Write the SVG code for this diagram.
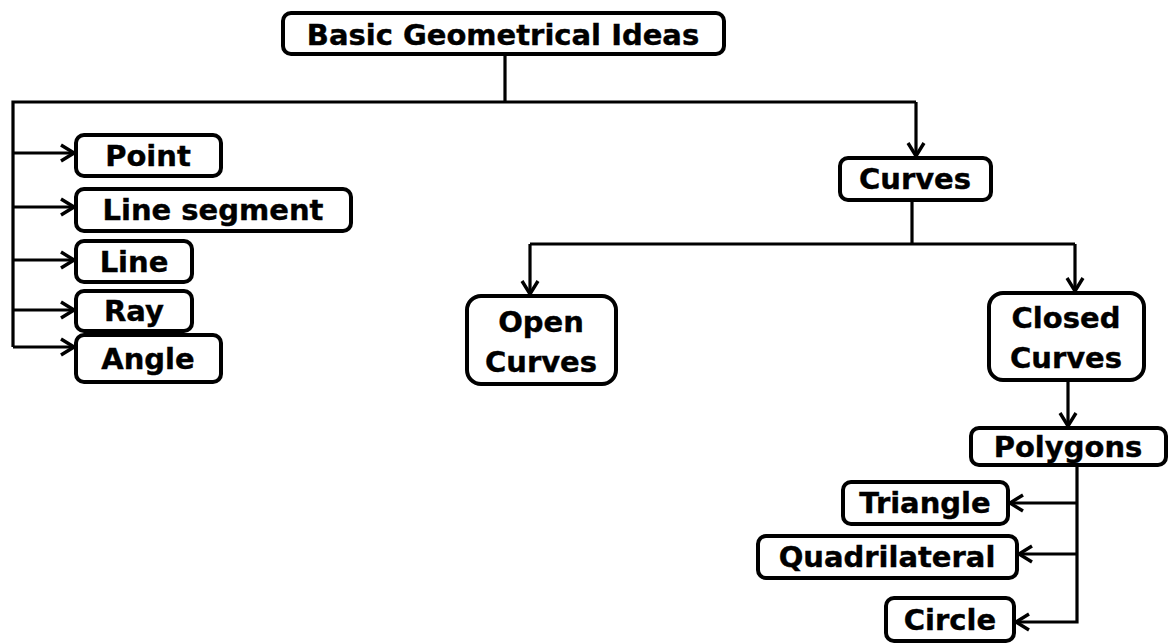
<svg xmlns="http://www.w3.org/2000/svg" width="1169" height="644" viewBox="0 0 1169 644">
  <style>
    .box { fill: #ffffff; stroke: #000000; stroke-width: 4; }
    .lbl { font-family: "DejaVu Sans", "Liberation Sans", sans-serif; font-weight: bold; font-size: 29px; fill: #000000; stroke: #000000; stroke-width: 0.4; text-anchor: middle; }
    .wire { fill: none; stroke: #000000; stroke-width: 3.2; }
  </style>
  <defs>
    <marker id="chev" viewBox="0 0 18 20" refX="15.5" refY="10" markerWidth="18" markerHeight="20" markerUnits="userSpaceOnUse" orient="auto">
      <path d="M2.5,2 L15.5,10 L2.5,18" fill="none" stroke="#000000" stroke-width="3.4"/>
    </marker>
  </defs>

  <rect width="1169" height="644" fill="#ffffff"/>

  <!-- connectors -->
  <g id="connectors" class="wire">
    <path d="M505,55 V102"/>
    <path d="M916,102 H13 V347"/>
    <path d="M13,153 H74" marker-end="url(#chev)"/>
    <path d="M13,207 H74" marker-end="url(#chev)"/>
    <path d="M13,260 H74" marker-end="url(#chev)"/>
    <path d="M13,310 H74" marker-end="url(#chev)"/>
    <path d="M13,347 H74" marker-end="url(#chev)"/>
    <path d="M916,102 V156" marker-end="url(#chev)"/>
    <path d="M912,201 V244"/>
    <path d="M530,244 H1075"/>
    <path d="M530,244 V294" marker-end="url(#chev)"/>
    <path d="M1075,244 V291" marker-end="url(#chev)"/>
    <path d="M1068,381 V426" marker-end="url(#chev)"/>
    <path d="M1077,466 V622 H1016" marker-end="url(#chev)"/>
    <path d="M1077,503 H1010" marker-end="url(#chev)"/>
    <path d="M1077,554 H1019" marker-end="url(#chev)"/>
  </g>

  <g id="basic-geometrical-ideas">
    <rect class="box" x="283" y="13" width="441" height="41" rx="8"/>
    <text class="lbl" x="503" y="45">Basic Geometrical Ideas</text>
  </g>

  <g id="point">
    <rect class="box" x="76" y="135" width="145" height="41" rx="8"/>
    <text class="lbl" x="148" y="166">Point</text>
  </g>
  <g id="line-segment">
    <rect class="box" x="76" y="189" width="275" height="42" rx="8"/>
    <text class="lbl" x="213" y="220">Line segment</text>
  </g>
  <g id="line">
    <rect class="box" x="76" y="241" width="116" height="41" rx="8"/>
    <text class="lbl" x="134" y="272">Line</text>
  </g>
  <g id="ray">
    <rect class="box" x="76" y="291" width="116" height="40" rx="8"/>
    <text class="lbl" x="134" y="321">Ray</text>
  </g>
  <g id="angle">
    <rect class="box" x="76" y="335" width="145" height="47" rx="8"/>
    <text class="lbl" x="148" y="369">Angle</text>
  </g>

  <g id="curves">
    <rect class="box" x="840" y="158" width="151" height="42" rx="8"/>
    <text class="lbl" x="915" y="189">Curves</text>
  </g>
  <g id="open-curves">
    <rect class="box" x="467" y="296" width="149" height="88" rx="14"/>
    <text class="lbl" x="541" y="332">Open</text>
    <text class="lbl" x="541" y="372">Curves</text>
  </g>
  <g id="closed-curves">
    <rect class="box" x="989" y="293" width="155" height="87" rx="14"/>
    <text class="lbl" x="1066" y="328">Closed</text>
    <text class="lbl" x="1066" y="368">Curves</text>
  </g>
  <g id="polygons">
    <rect class="box" x="971" y="428" width="195" height="37" rx="8"/>
    <text class="lbl" x="1068" y="457">Polygons</text>
  </g>
  <g id="triangle">
    <rect class="box" x="843" y="482" width="165" height="42" rx="8"/>
    <text class="lbl" x="925" y="513">Triangle</text>
  </g>
  <g id="quadrilateral">
    <rect class="box" x="758" y="536" width="259" height="42" rx="8"/>
    <text class="lbl" x="887" y="567">Quadrilateral</text>
  </g>
  <g id="circle">
    <rect class="box" x="886" y="598" width="128" height="43" rx="8"/>
    <text class="lbl" x="950" y="630">Circle</text>
  </g>
</svg>
